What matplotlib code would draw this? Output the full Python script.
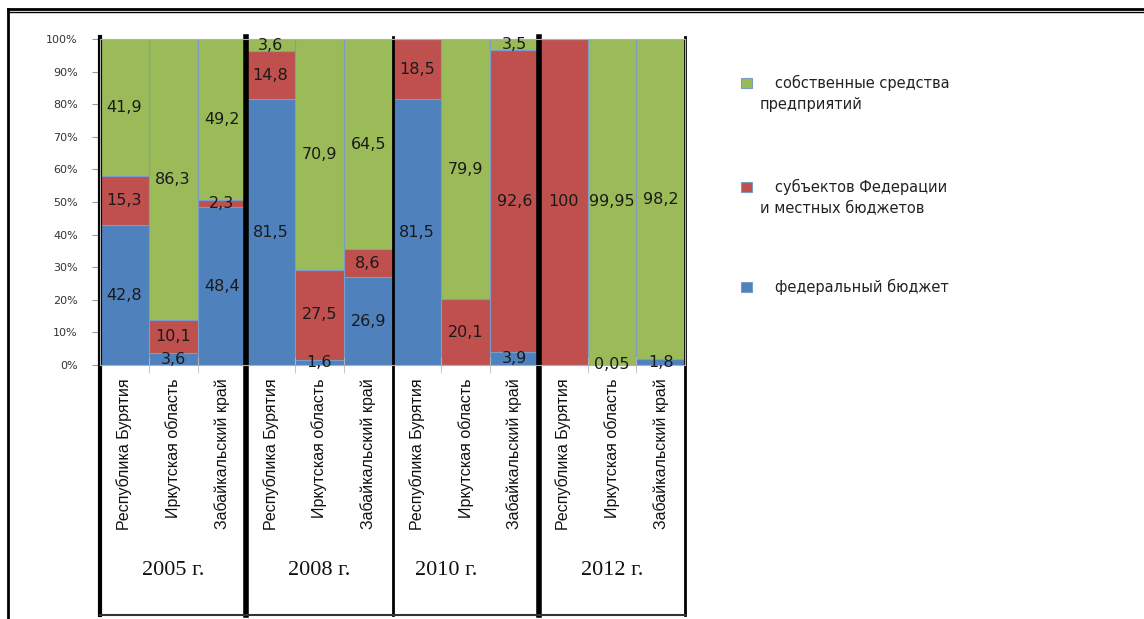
import matplotlib
matplotlib.use("Agg")
import matplotlib.pyplot as plt
from matplotlib.lines import Line2D
from matplotlib.patches import Rectangle
import numpy as np

# data: shares of investment sources, %
years = ["2005 г.", "2008 г.", "2010 г.", "2012 г."]
regions = ["Республика Бурятия", "Иркутская область", "Забайкальский край"]

federal = [42.8, 3.6, 48.4, 81.5, 1.6, 26.9, 81.5, 0, 3.9, 0, 0.05, 1.8]
subjects = [15.3, 10.1, 2.3, 14.8, 27.5, 8.6, 18.5, 20.1, 92.6, 100, 0, 0]
own = [41.9, 86.3, 49.2, 3.6, 70.9, 64.5, 0, 79.9, 3.5, 0, 99.95, 98.2]

series_names = ["собственные средства\nпредприятий",
                "субъектов Федерации\nи местных бюджетов",
                "федеральный бюджет"]
colors = {"fed": "#4F81BD", "subj": "#C0504D", "own": "#9BBB59"}


def fmt(v):
    s = ("%g" % v).replace(".", ",")
    return s


W, H = 1144, 619
fig = plt.figure(figsize=(W / 100, H / 100), dpi=100)


# pixel -> figure fraction helpers
def fx(px):
    return px / W


def fy(py):
    return 1 - py / H


ax = fig.add_axes([fx(100), fy(365), fx(685) - fx(100), fy(39) - fy(365)])

x = np.arange(len(federal))
fed = np.array(federal)
sub = np.array(subjects)
own_a = np.array(own)

edge = "#7a9cc6"
ax.bar(x, fed, width=1.0, color=colors["fed"], edgecolor=edge, linewidth=0.8)
ax.bar(x, sub, width=1.0, bottom=fed, color=colors["subj"], edgecolor=edge, linewidth=0.8)
ax.bar(x, own_a, width=1.0, bottom=fed + sub, color=colors["own"], edgecolor=edge, linewidth=0.8)

# value labels in the middle of every non-empty segment
for i in range(len(x)):
    bottoms = [0, fed[i], fed[i] + sub[i]]
    for v, b in zip([fed[i], sub[i], own_a[i]], bottoms):
        if v > 0:
            ax.text(i, b + v / 2, fmt(v), ha="center", va="center",
                    fontsize=11.5, color="#1a1a1a", family="DejaVu Sans")

ax.set_xlim(-0.5, len(x) - 0.5)
ax.set_ylim(0, 100)
ax.set_yticks(np.arange(0, 101, 10))
ax.set_yticklabels(["%d%%" % t for t in range(0, 101, 10)],
                   fontsize=8, color="#333333")
ax.tick_params(axis="y", length=6, color="#999999", pad=10)
ax.set_xticks([])
ax.set_xticks(np.arange(0.5, len(x) - 1, 1), minor=True)
ax.tick_params(axis="x", which="minor", direction="inout", length=12, color="#bbbbbb")
for s in ax.spines.values():
    s.set_color("#b0b0b0")

# region names under bars
for i in range(len(x)):
    ax.text(i, -0.04, regions[i % 3], rotation=90, ha="center", va="top",
            transform=ax.get_xaxis_transform(), fontsize=11.5,
            family=["Liberation Sans Narrow", "Liberation Sans"], color="#111111")

# year labels
for g, yr in enumerate(years):
    xc = g * 3 + 1
    if g == 2:
        xc -= 0.4
    ax.text(xc, -0.63, yr, ha="center", va="center", transform=ax.get_xaxis_transform(),
            fontsize=16, family="Liberation Serif", color="#111111")

# group separators reaching the bottom table
trans = ax.get_xaxis_transform()
sep_widths = [3, 4, 2, 4, 2]
for k, xs in enumerate(np.arange(-0.5, len(x), 3)):
    ax.add_line(Line2D([xs, xs], [-0.767, 1.005], transform=trans, color="black",
                       linewidth=sep_widths[k], clip_on=False))
ax.add_line(Line2D([-0.5, len(x) - 0.5], [-0.767, -0.767], transform=trans,
                   color="#333333", linewidth=1.5, clip_on=False))

# legend drawn at the right
leg_items = [(colors["own"], series_names[0], 83),
             (colors["subj"], series_names[1], 187),
             (colors["fed"], series_names[2], 287)]
for col, name, py in leg_items:
    fig.patches.append(Rectangle((fx(741), fy(py + 5)), fx(11), fy(0) - fy(10),
                                 transform=fig.transFigure, facecolor=col,
                                 edgecolor="#7a9cc6", linewidth=0.8))
    first, *rest = name.split("\n")
    fig.text(fx(775), fy(py), first, ha="left", va="center", fontsize=10.5, color="#222222")
    for j, line in enumerate(rest):
        fig.text(fx(760), fy(py + 21 * (j + 1)), line, ha="left", va="center",
                 fontsize=10.5, color="#222222")

# page frame
fig.add_artist(Line2D([fx(8), 1], [fy(9), fy(9)], color="black", linewidth=2))
fig.add_artist(Line2D([fx(8), 1], [fy(12), fy(12)], color="black", linewidth=1))
fig.add_artist(Line2D([fx(8), fx(8)], [fy(9), 0], color="black", linewidth=2))

fig.savefig("out.png", dpi=100)
